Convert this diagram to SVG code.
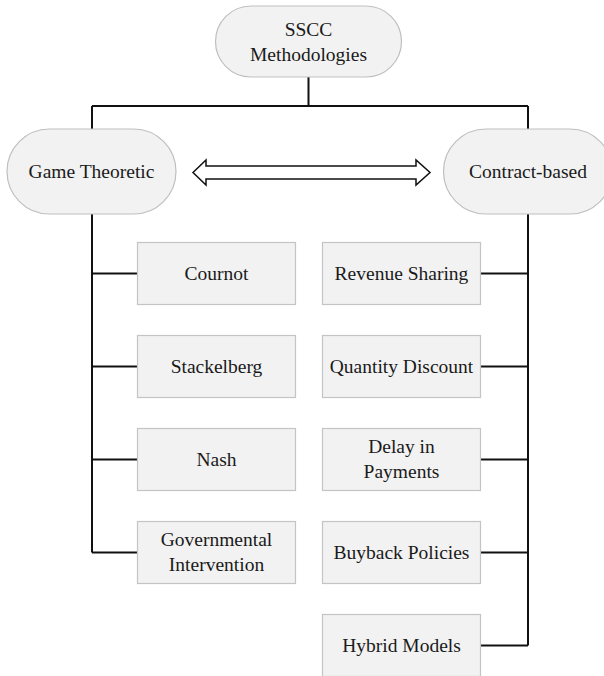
<svg xmlns="http://www.w3.org/2000/svg" width="604" height="676" viewBox="0 0 604 676">
<style>
.pill{fill:#f2f2f2;stroke:#bfbfbf;stroke-width:1.2}
.box{fill:#f2f2f2;stroke:#c4c4c4;stroke-width:1.2}
.wire{fill:none;stroke:#111;stroke-width:2}
text{font-family:"Liberation Serif","Times New Roman",serif;font-size:19.5px;fill:#1a1a1a;text-anchor:middle}
</style>
<rect width="604" height="676" fill="#fff"/>
<g id="connectors">
<path class="wire" d="M308.5 77V106M92 106H528M92 106V552.5M528 106V645.5"/>
<path class="wire" d="M92 273.5H137.5M92 366.5H137.5M92 459.5H137.5M92 552.5H137.5"/>
<path class="wire" d="M480.5 273.5H528M480.5 366.5H528M480.5 459.5H528M480.5 552.5H528M480.5 645.5H528"/>
<polygon points="193,172.5 206,160 206,166 416,166 416,160 430,172.5 416,185 416,179 206,179 206,185" fill="#fff" stroke="#111" stroke-width="1.5" stroke-linejoin="miter"/>
</g>
<g id="root"><rect class="pill" x="215.5" y="6" width="186" height="71" rx="35.5"/><text x="308.5" y="35.8">SSCC</text><text x="308.5" y="60.8">Methodologies</text></g>
<g id="game"><rect class="pill" x="7" y="129" width="169" height="85" rx="42.5"/><text x="91.5" y="178.3">Game Theoretic</text></g>
<g id="contract"><rect class="pill" x="443.5" y="129" width="169" height="85" rx="42.5"/><text x="528" y="178.3">Contract-based</text></g>
<g id="cournot"><rect class="box" x="137.5" y="242.5" width="158" height="62"/><text x="216.5" y="280.3">Cournot</text></g>
<g id="stackelberg"><rect class="box" x="137.5" y="335.5" width="158" height="62"/><text x="216.5" y="373.3">Stackelberg</text></g>
<g id="nash"><rect class="box" x="137.5" y="428.5" width="158" height="62"/><text x="216.5" y="466.3">Nash</text></g>
<g id="gov"><rect class="box" x="137.5" y="521.5" width="158" height="62"/><text x="216.5" y="546.3">Governmental</text><text x="216.5" y="571.3">Intervention</text></g>
<g id="revenue"><rect class="box" x="322.5" y="242.5" width="158" height="62"/><text x="401.5" y="280.3">Revenue Sharing</text></g>
<g id="quantity"><rect class="box" x="322.5" y="335.5" width="158" height="62"/><text x="401.5" y="373.3">Quantity Discount</text></g>
<g id="delay"><rect class="box" x="322.5" y="428.5" width="158" height="62"/><text x="401.5" y="453.3">Delay in</text><text x="401.5" y="478.3">Payments</text></g>
<g id="buyback"><rect class="box" x="322.5" y="521.5" width="158" height="62"/><text x="401.5" y="559.3">Buyback Policies</text></g>
<g id="hybrid"><rect class="box" x="322.5" y="614.5" width="158" height="62"/><text x="401.5" y="652.3">Hybrid Models</text></g>
</svg>
